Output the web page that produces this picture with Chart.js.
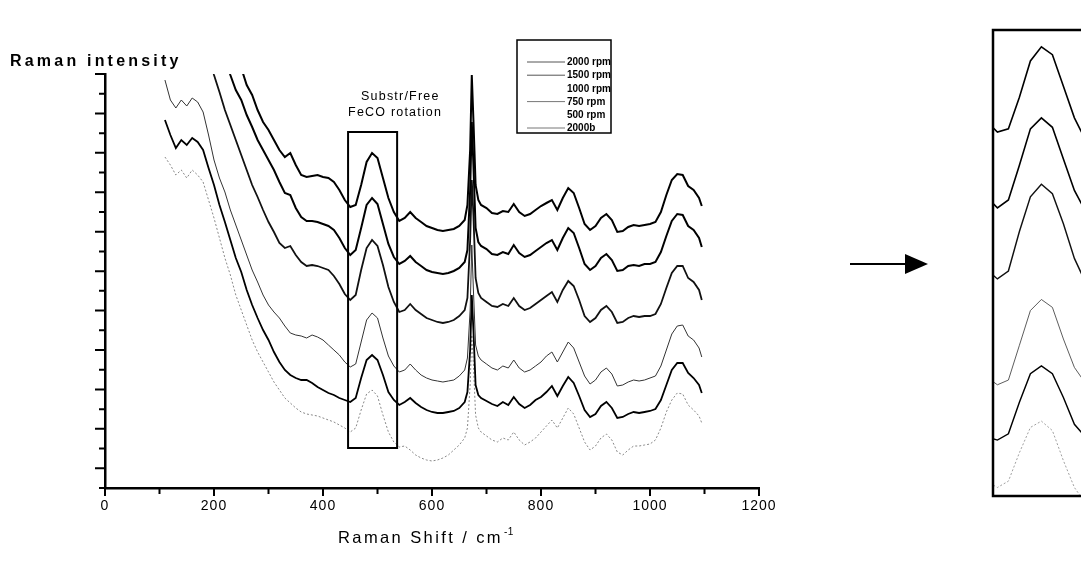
<!DOCTYPE html>
<html>
<head>
<meta charset="utf-8">
<script src="https://cdn.jsdelivr.net/npm/chart.js@4.4.1/dist/chart.umd.min.js"></script>
<style>
  html, body { margin: 0; padding: 0; background: #fff; overflow: hidden; width: 1081px; height: 569px; }
  #main { position: absolute; left: 0; top: 0; }
  #inset { position: absolute; left: 990px; top: 0; }
</style>
</head>
<body>
<canvas id="main" width="1081" height="569"></canvas>
<canvas id="inset" width="110" height="569"></canvas>
<script>
// Raman shift (cm-1) sample positions shared by all six spectra
const ramanShift = [
  110, 120, 130, 140, 150, 160, 170, 180, 190, 200,
  210, 220, 230, 240, 250, 260, 270, 280, 290, 300,
  310, 320, 330, 340, 350, 360, 370, 380, 390, 400,
  410, 420, 430, 440, 450, 460, 470, 480, 490, 500,
  510, 520, 530, 540, 550, 560, 570, 580, 590, 600,
  610, 620, 630, 640, 650, 660,
  665, 670, 673, 676, 680, 685,
  690, 700, 710, 720, 730, 740, 750, 760, 770, 780,
  790, 800, 810, 820, 830, 840, 850, 860, 870, 880,
  890, 900, 910, 920, 930, 940, 950, 960, 970, 980,
  990, 1000, 1010, 1020, 1030, 1040, 1050, 1060, 1070, 1080, 1090,
  1095,
];

// intensities (arbitrary units, stacked with offsets as in the figure)
const s2000 = [
  560, 555, 548, 552, 545, 550, 548, 540, 525, 505,
  490, 475, 458, 440, 420, 403, 393, 378, 366, 358,
  348, 338, 331, 335, 323, 313, 311, 312, 313, 311,
  310, 306, 298, 288, 281, 283, 303, 326, 335, 330,
  310, 290, 276, 267, 270, 276, 270, 266, 262, 260,
  258, 257, 258, 259, 262, 268,
  283, 338, 413, 368, 303, 288,
  283, 280, 275, 274, 277, 276, 284, 276, 272, 274,
  278, 282, 285, 288, 278, 290, 300, 295, 280, 264,
  258, 262, 270, 274, 268, 256, 257, 261, 263, 262,
  263, 264, 266, 276, 293, 308, 314, 313, 302, 298, 290,
  282,
];
const s1500 = [
  520, 512, 505, 510, 503, 508, 504, 496, 482, 466,
  450, 432, 413, 398, 388, 373, 361, 348, 338, 328,
  318, 306, 295, 293, 280, 271, 267, 267, 266, 264,
  262, 258, 250, 240, 233, 238, 260, 283, 290, 284,
  264, 244, 231, 224, 227, 232, 226, 222, 218, 216,
  215, 214, 215, 217, 220, 226,
  238, 298, 366, 323, 260, 246,
  242, 239, 234, 233, 236, 234, 243, 235, 231, 233,
  237, 241, 245, 248, 238, 250, 260, 255, 240, 224,
  218, 222, 230, 234, 228, 217, 218, 222, 223, 222,
  224, 224, 226, 236, 252, 267, 274, 273, 262, 258, 250,
  241,
];
const s1000 = [
  470, 462, 455, 460, 453, 458, 455, 448, 435, 413,
  396, 378, 363, 348, 333, 318, 303, 291, 278, 266,
  256, 245, 240, 242, 233, 226, 222, 223, 222, 220,
  218, 212, 204, 194, 188, 193, 218, 240, 248, 242,
  223, 201, 186, 176, 178, 184, 178, 174, 170, 168,
  166, 165, 166, 168, 172, 178,
  190, 248, 308, 273, 210, 195,
  190, 186, 182, 181, 184, 182, 190, 182, 178, 180,
  184, 188, 192, 196, 186, 198, 207, 202, 188, 172,
  166, 170, 178, 182, 176, 165, 166, 170, 172, 171,
  172, 172, 174, 184, 200, 215, 222, 222, 210, 206, 198,
  188,
];
const s750 = [
  408, 388, 380, 388, 382, 390, 386, 376, 353, 328,
  310, 296, 278, 263, 248, 233, 218, 206, 193, 183,
  176, 170, 162, 155, 153, 152, 150, 153, 151, 148,
  143, 138, 133, 126, 121, 124, 146, 168, 175, 170,
  150, 132, 122, 116, 118, 124, 118, 113, 110, 108,
  107, 106, 107, 108, 112, 118,
  130, 178, 243, 198, 143, 132,
  128, 124, 120, 118, 122, 120, 128, 120, 116, 118,
  122, 126, 132, 136, 126, 136, 146, 140, 126, 112,
  104, 108, 116, 120, 114, 102, 103, 106, 108, 107,
  108, 110, 112, 122, 138, 154, 162, 163, 152, 148, 140,
  131,
];
const s500 = [
  368, 353, 340, 348, 343, 350, 346, 338, 320, 303,
  283, 266, 248, 230, 216, 198, 183, 170, 158, 148,
  136, 126, 118, 113, 110, 108, 108, 105, 101, 98,
  95, 93, 90, 88, 86, 90, 110, 128, 133, 128,
  113, 96, 88, 83, 86, 90, 85, 81, 78, 76,
  75, 75, 76, 77, 80, 86,
  96, 138, 193, 158, 103, 93,
  90, 87, 84, 82, 86, 83, 91, 84, 80, 83,
  88, 91, 96, 102, 92, 102, 111, 105, 92, 78,
  71, 74, 82, 86, 80, 70, 71, 74, 76, 75,
  76, 77, 79, 88, 103, 118, 125, 125, 115, 110, 103,
  95,
];
const s2000b = [
  331, 323, 313, 318, 310, 318, 313, 306, 288, 270,
  250, 230, 213, 193, 178, 163, 148, 136, 126, 116,
  106, 98, 90, 85, 80, 76, 74, 73, 72, 70,
  68, 66, 63, 60, 56, 60, 78, 94, 98, 92,
  73, 56, 46, 41, 42, 38, 33, 30, 28, 27,
  28, 30, 33, 38, 43, 50,
  60, 103, 153, 123, 73, 60,
  56, 52, 48, 46, 50, 48, 56, 48, 43, 46,
  50, 56, 62, 68, 60, 70, 80, 74, 60, 46,
  38, 42, 50, 54, 48, 36, 33, 38, 42, 42,
  43, 44, 48, 60, 76, 88, 95, 94, 83, 78, 72,
  65,
];

const seriesLabels = ["2000 rpm", "1500 rpm", "1000 rpm", "750 rpm", "500 rpm", "2000b"];
const xTickLabels = [0, 200, 400, 600, 800, 1000, 1200];
const xMinorTicks = [100, 300, 500, 700, 900, 1100];
const yTickCount = 21; // unlabelled ticks on the intensity axis
const boxShift = [446, 536];      // the "Substr/Free FeCO rotation" window
const boxIntensity = [40, 356];

// line looks: thick black, thin grey, faint dotted
const lineStyles = [
  { color: "#000", width: 2 },
  { color: "#000", width: 2 },
  { color: "#111", width: 1.8 },
  { color: "#333", width: 1 },
  { color: "#000", width: 1.8 },
  { color: "#888", width: 1, dash: [2, 2] },
];
const legendLine = ["#555", "#555", null, "#777", null, "#777"];

const FONT = '"Liberation Sans", Arial, sans-serif';

function makeDatasets(k) {
  return [s2000, s1500, s1000, s750, s500, s2000b].map((vals, i) => ({
    label: seriesLabels[i],
    data: ramanShift.map((x, j) => ({ x, y: vals[j] })),
    borderColor: lineStyles[i].color,
    borderWidth: lineStyles[i].width * k,
    borderDash: lineStyles[i].dash || [],
    pointRadius: 0,
    tension: 0,
    fill: false,
  }));
}

function spaced(ctx, text, x, y, spacing) {
  ctx.letterSpacing = `${spacing}px`;
  ctx.fillText(text, x, y);
  ctx.letterSpacing = "0px";
}

const decorations = {
  id: "decorations",
  beforeDraw(chart) {
    chart.ctx.letterSpacing = "1px";
  },
  afterDraw(chart) {
    const { ctx, chartArea: a, scales: { x, y } } = chart;
    ctx.save();
    ctx.letterSpacing = "0px";
    ctx.strokeStyle = "#000";
    ctx.fillStyle = "#000";

    // tick marks
    ctx.lineWidth = 2;
    ctx.beginPath();
    xTickLabels.concat(xMinorTicks).forEach((v) => {
      const px = x.getPixelForValue(v);
      const len = xTickLabels.includes(v) ? 8 : 6;
      ctx.moveTo(px, a.bottom);
      ctx.lineTo(px, a.bottom + len);
    });
    for (let i = 0; i <= yTickCount; i++) {
      const py = y.getPixelForValue((i * y.max) / yTickCount);
      const len = (yTickCount - i) % 2 === 0 ? 10 : 6;
      ctx.moveTo(a.left, py);
      ctx.lineTo(a.left - len, py);
    }
    ctx.stroke();

    // window box
    const bx1 = x.getPixelForValue(boxShift[0]);
    const bx2 = x.getPixelForValue(boxShift[1]);
    const by1 = y.getPixelForValue(boxIntensity[1]);
    const by2 = y.getPixelForValue(boxIntensity[0]);
    ctx.lineWidth = 2;
    ctx.strokeRect(bx1, by1, bx2 - bx1, by2 - by1);
    ctx.font = `12.5px ${FONT}`;
    ctx.textBaseline = "alphabetic";
    spaced(ctx, "Substr/Free", bx1 + 13, 100, 1.2);
    spaced(ctx, "FeCO rotation", bx1, 116, 1.2);

    // legend
    ctx.lineWidth = 1.5;
    ctx.strokeRect(517, 40, 94, 93);
    ctx.font = `bold 10px ${FONT}`;
    ctx.textBaseline = "middle";
    seriesLabels.forEach((lab, i) => {
      const ly = 62 + i * 13.2;
      if (legendLine[i]) {
        ctx.strokeStyle = legendLine[i];
        ctx.lineWidth = 1;
        ctx.beginPath();
        ctx.moveTo(527, ly);
        ctx.lineTo(565, ly);
        ctx.stroke();
      }
      ctx.fillText(lab, 567, ly + 0.5);
    });
    ctx.strokeStyle = "#000";

    // axis titles
    ctx.textBaseline = "alphabetic";
    ctx.font = `bold 16px ${FONT}`;
    spaced(ctx, "Raman intensity", 10, 66, 3.2);
    ctx.font = `16.5px ${FONT}`;
    spaced(ctx, "Raman Shift / cm", 338, 543, 2.4);
    ctx.font = `10px ${FONT}`;
    spaced(ctx, "-1", 504, 535, 0.5);

    // arrow to the inset
    ctx.lineWidth = 2;
    ctx.beginPath();
    ctx.moveTo(850, 264);
    ctx.lineTo(907, 264);
    ctx.stroke();
    ctx.beginPath();
    ctx.moveTo(905, 254);
    ctx.lineTo(928, 264);
    ctx.lineTo(905, 274);
    ctx.closePath();
    ctx.fill();
    ctx.restore();
  },
};

new Chart(document.getElementById("main"), {
  type: "line",
  data: { datasets: makeDatasets(1) },
  options: {
    responsive: false,
    animation: false,
    layout: { padding: { left: 0, top: 74, right: 322, bottom: 0 } },
    plugins: { legend: { display: false }, tooltip: { enabled: false } },
    scales: {
      x: {
        type: "linear",
        min: 0,
        max: 1200,
        afterBuildTicks: (s) => { s.ticks = xTickLabels.map((v) => ({ value: v })); },
        afterFit: (s) => { s.height = 81; },
        grid: { display: false, drawTicks: false },
        border: { display: true, color: "#000", width: 2.5 },
        ticks: {
          padding: 10,
          color: "#000",
          font: { family: FONT, size: 14 },
          maxRotation: 0,
          autoSkip: false,
          callback: (v) => String(v),
        },
      },
      y: {
        type: "linear",
        min: 0,
        max: 414,
        afterFit: (s) => { s.width = 105; },
        grid: { display: false, drawTicks: false },
        border: { display: true, color: "#000", width: 2.5 },
        ticks: { display: false },
      },
    },
  },
  plugins: [decorations],
});

const insetFrame = {
  id: "insetFrame",
  afterDraw(chart) {
    const { ctx, chartArea: a } = chart;
    ctx.save();
    ctx.strokeStyle = "#000";
    ctx.lineWidth = 2.5;
    ctx.strokeRect(a.left, a.top, a.width, a.height);
    ctx.restore();
  },
};

new Chart(document.getElementById("inset"), {
  type: "line",
  data: { datasets: makeDatasets(0.8) },
  options: {
    responsive: false,
    animation: false,
    layout: { padding: { left: 3, top: 30, right: 8, bottom: 73 } },
    plugins: { legend: { display: false }, tooltip: { enabled: false } },
    scales: {
      x: { type: "linear", display: false, min: boxShift[0], max: boxShift[1] },
      y: { type: "linear", display: false, min: 50.6, max: 345.6 },
    },
  },
  plugins: [insetFrame],
});
</script>
</body>
</html>
